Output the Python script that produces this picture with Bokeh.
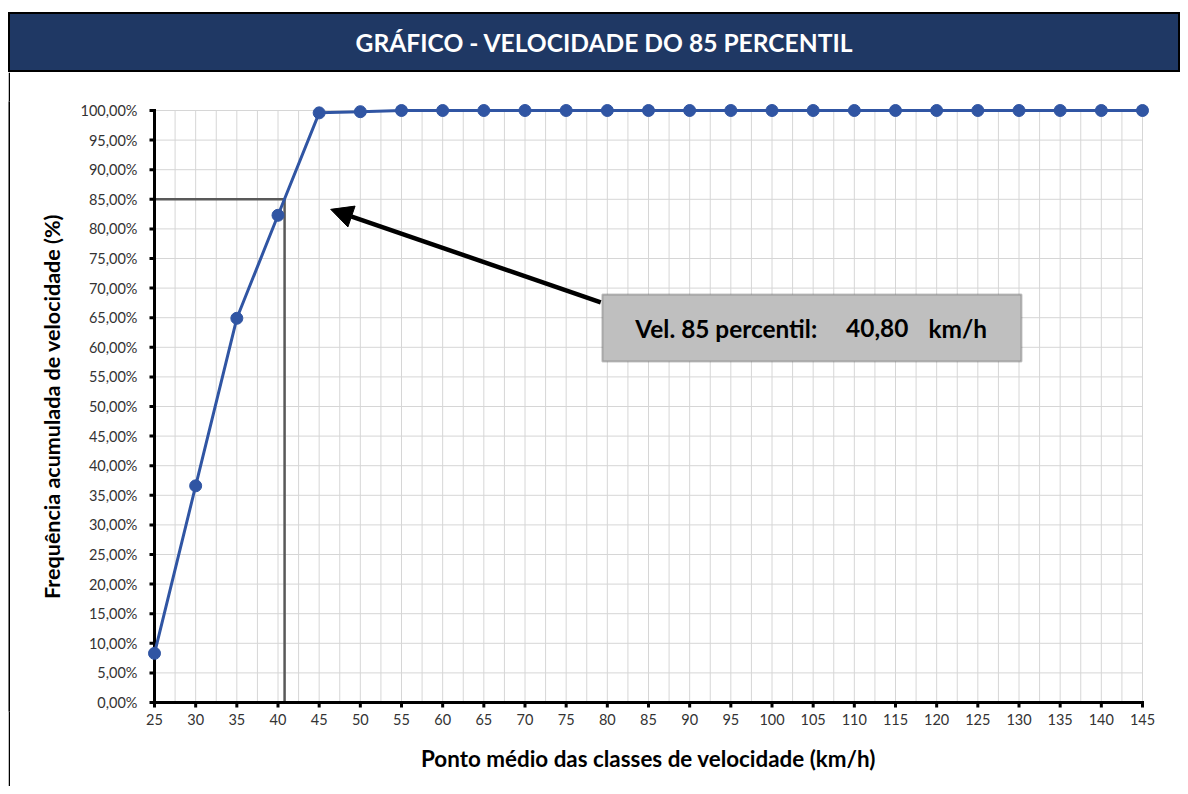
from bokeh.plotting import figure
from bokeh.models import (FixedTicker, CustomJSTickFormatter, BoxAnnotation, Label,
                          Arrow, NormalHead, ColumnDataSource, Range1d, Spacer)
from bokeh.layouts import column, row
from bokeh.embed import file_html
from bokeh.resources import INLINE

# ---- data ----
velocidade = [25, 30, 35, 40, 45, 50, 55, 60, 65, 70, 75, 80, 85, 90, 95,
              100, 105, 110, 115, 120, 125, 130, 135, 140, 145]
freq_acum = [8.3, 36.6, 64.9, 82.3, 99.6, 99.8, 100, 100, 100, 100, 100, 100, 100,
             100, 100, 100, 100, 100, 100, 100, 100, 100, 100, 100, 100]
x_ticks = list(range(25, 146, 5))
x_minor = [t + 2.5 for t in x_ticks[:-1]]
y_ticks = list(range(0, 101, 5))
v85 = 40.80
p85 = 85.0

title_text = "GRÁFICO - VELOCIDADE DO 85 PERCENTIL"
ylabel = "Frequência acumulada de velocidade (%)"
xlabel = "Ponto médio das classes de velocidade (km/h)"

FONT = "Lato"
NAVY = "#1F3864"
BLUE = "#3055A3"

# ---- title bar ----
TW, TH = 1172, 60
tfig = figure(width=TW, height=TH, output_backend="svg", toolbar_location=None,
              x_range=Range1d(0, TW), y_range=Range1d(0, TH),
              x_axis_location=None, y_axis_location=None,
              min_border=0, min_border_left=0, min_border_right=0,
              min_border_top=0, min_border_bottom=0)
tfig.grid.visible = False
tfig.background_fill_color = NAVY
tfig.border_fill_color = NAVY
tfig.outline_line_color = "black"
tfig.outline_line_width = 3
tfig.add_layout(Label(x=596, y=TH / 2, text=title_text, text_font=FONT,
                      text_font_size="24.6px", text_font_style="bold", text_color="white",
                      text_align="center", text_baseline="middle"))

# ---- left frame strip ----
MH = 714
strip = figure(width=2, height=MH, output_backend="svg", toolbar_location=None,
               x_axis_location=None, y_axis_location=None,
               min_border=0, min_border_left=0, min_border_right=0,
               min_border_top=0, min_border_bottom=0)
strip.grid.visible = False
strip.background_fill_color = "black"
strip.border_fill_color = "black"
strip.outline_line_color = None

# ---- main chart ----
MW = 1170
PX_X = 988 / 120      # pixels per km/h
PX_Y = 592 / 100      # pixels per percent
xpad = 12 / PX_X
ypad = 9 / PX_Y
p = figure(width=MW, height=MH, output_backend="svg", toolbar_location=None,
           x_range=Range1d(x_ticks[0] - xpad, x_ticks[-1] + xpad),
           y_range=Range1d(y_ticks[0] - ypad, y_ticks[-1] + ypad),
           min_border_left=132, min_border_right=26, min_border_top=29,
           min_border_bottom=75)
p.outline_line_color = None
p.background_fill_color = "white"
p.border_fill_color = "white"
p.grid.visible = False

# grid lines (limited to the data area)
grid_x = x_ticks + x_minor
p.segment(x0=grid_x, y0=[y_ticks[0]] * len(grid_x), x1=grid_x, y1=[y_ticks[-1]] * len(grid_x),
          line_color="#d6d6d6", line_width=1)
p.segment(x0=[x_ticks[0]] * len(y_ticks), y0=y_ticks, x1=[x_ticks[-1]] * len(y_ticks), y1=y_ticks,
          line_color="#d6d6d6", line_width=1)

# axes: labels from the panel axes, lines and ticks drawn at the data origin
p.xaxis.ticker = FixedTicker(ticks=x_ticks)
p.yaxis.ticker = FixedTicker(ticks=y_ticks)
p.yaxis.formatter = CustomJSTickFormatter(code="return tick.toFixed(2).replace('.', ',') + '%';")
for ax in (p.xaxis, p.yaxis):
    ax.axis_line_color = None
    ax.major_tick_line_color = None
    ax.minor_tick_line_color = None
    ax.major_tick_out = 0
    ax.major_tick_in = 0
    ax.major_label_text_font = FONT
    ax.major_label_text_font_size = "14.5px"
    ax.major_label_text_color = "#333333"
    ax.axis_label_text_font = FONT
    ax.axis_label_text_font_size = "21.5px"
    ax.axis_label_text_font_style = "bold"
    ax.axis_label_text_color = "black"
p.xaxis.axis_label_text_font_size = "22.4px"
p.xaxis.axis_label = xlabel
p.yaxis.axis_label = ylabel
p.xaxis.major_label_standoff = 2
p.yaxis.major_label_standoff = 5
p.xaxis.axis_label_standoff = 17
p.yaxis.axis_label_standoff = 13

TICK = 5
tx = TICK / PX_X
ty = TICK / PX_Y
p.segment(x0=[x_ticks[0] - tx] * len(y_ticks), y0=y_ticks, x1=[x_ticks[0]] * len(y_ticks), y1=y_ticks,
          line_color="black", line_width=3)
p.segment(x0=x_ticks, y0=[y_ticks[0] - ty] * len(x_ticks), x1=x_ticks, y1=[y_ticks[0]] * len(x_ticks),
          line_color="black", line_width=3)

# 85th percentile guide lines
p.line([x_ticks[0], v85, v85], [p85, p85, y_ticks[0]], line_color="#595959", line_width=2.5)

p.segment(x0=[x_ticks[0], x_ticks[0]], y0=[y_ticks[0], y_ticks[0]],
          x1=[x_ticks[0], x_ticks[-1]], y1=[y_ticks[-1], y_ticks[0]],
          line_color="black", line_width=3, line_cap="square")

# data series
src = ColumnDataSource(dict(x=velocidade, y=freq_acum))
p.line("x", "y", source=src, line_color=BLUE, line_width=3)
p.scatter("x", "y", source=src, size=12, fill_color=BLUE, line_color=BLUE)

# annotation box
p.add_layout(BoxAnnotation(left=79.4, right=130.3, bottom=57.6, top=68.9,
                           fill_color="#BFBFBF", fill_alpha=1,
                           line_color="#404040", line_width=2))
for txt, xx in (("Vel. 85 percentil:", 83.4), ("40,80", 109.0), ("km/h", 119.0)):
    p.add_layout(Label(x=xx, y=63.2, text=txt, text_font=FONT, text_font_size="24.4px",
                       text_font_style="bold", text_color="black",
                       text_align="left", text_baseline="middle"))

p.add_layout(Arrow(end=NormalHead(size=22, fill_color="black", line_color="black"),
                   x_start=79.2, y_start=67.6, x_end=46.4, y_end=83.3,
                   line_color="black", line_width=4.5))

layout = column(Spacer(width=1180, height=12),
                row(Spacer(width=8, height=TH), tfig),
                row(Spacer(width=8, height=MH), strip, p))

open("out.html", "w").write(file_html(layout, INLINE))
